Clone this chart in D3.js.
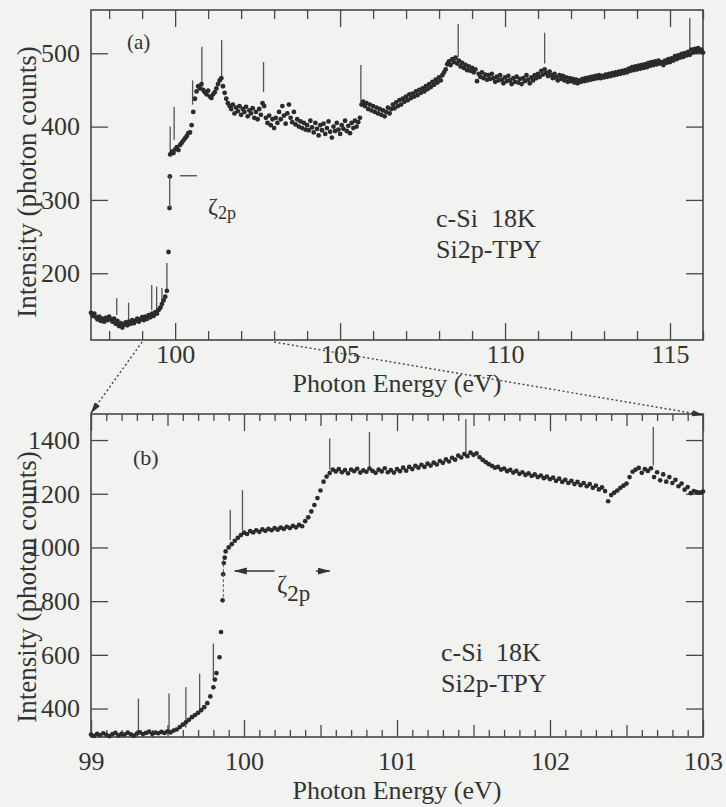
<!DOCTYPE html>
<html><head><meta charset="utf-8">
<script src="https://cdn.jsdelivr.net/npm/d3@7"></script>
<style>
html,body{margin:0;padding:0;background:#f2f2f0;}
svg{display:block;}
text{font-family:"Liberation Serif","DejaVu Serif","Times New Roman",serif;fill:#333;}
</style></head><body>
<svg id="chart" width="726" height="807"></svg>
<script>
// ---------------- data ----------------
// panel (a): wide scan, regular energy grid
const startEnergyA = 97.45, stepEnergyA = 0.05;
const intensityA = [
146,142,145,140,137,141,135,138,134,139,136,
141,137,134,138,131,135,128,132,126,130,133,129,134,131,136,132,135,138,134,137,
140,136,141,138,143,140,145,142,147,145,150,153,158,163,168,176,229,362,366,364,
369,372,368,375,378,381,384,387,391,392,402,420,438,448,455,452,458,450,447,444,
449,441,439,444,447,452,458,463,466,455,446,438,432,428,424,430,418,426,421,428,
416,424,420,427,414,422,418,425,412,420,410,424,416,432,428,412,405,415,402,410,
398,412,405,420,410,428,415,404,418,430,412,406,420,403,410,400,407,398,405,396,
402,395,408,399,392,405,397,388,402,395,404,390,398,407,393,385,400,394,405,396,
390,402,397,408,394,401,391,405,398,408,400,406,412,430,434,428,432,424,430,422,
428,420,426,418,424,416,422,414,420,426,418,424,430,425,433,428,436,430,438,434,
441,436,444,439,445,441,448,443,450,446,452,448,455,451,458,454,461,457,464,460,
467,463,470,474,478,485,489,484,492,488,494,486,490,482,487,480,484,477,482,476,
480,474,478,462,472,468,474,466,471,464,470,465,472,466,461,468,463,470,464,459,
467,462,469,463,458,466,461,468,460,465,458,466,462,470,464,459,467,463,470,466,
472,468,476,471,478,473,469,475,470,466,472,467,463,470,465,469,463,467,461,466,
462,465,460,464,459,463,461,465,462,466,463,467,464,468,465,469,466,470,466,469,
467,471,468,472,469,473,470,474,471,475,472,476,473,477,474,479,476,481,477,482,
478,483,479,484,480,485,481,487,483,488,484,489,485,490,486,488,484,490,487,492,
488,493,490,496,492,497,494,499,495,500,497,502,498,505,501,506,502,507,503,505,
501];
const edgeEnergyA = [99.83, 99.84];
const edgeIntensityA = [289, 332];
const markerEnergyA = [98.23, 98.59, 99.29, 99.44, 99.6, 99.75, 99.85, 99.97, 100.53, 100.81, 101.41, 102.68, 105.63, 108.58, 111.2, 115.6];
const markerTopA    = [166, 160, 184, 182, 180, 214, 400, 427, 463, 509, 518, 488, 484, 540, 528, 548];
const markerBottomA = [143, 136, 150, 150, 152, 177, 368, 382, 430, 452, 468, 447, 433, 495, 486, 505];
const xTicksA = [100, 105, 110, 115];
const yTicksA = [200, 300, 400, 500];

// panel (b): fine scan near the edge
const startEnergyB = 99.0, stepEnergyB = 0.02;
const intensityB = [
303,298,306,301,308,302,297,305,309,300,306,303,310,304,299,307,311,305,309,314,
306,310,308,313,309,315,311,318,322,331,340,349,358,368,376,384,394,405,420,445,
479,532,591,803,985,1000,1012,1025,1036,1046,
1055,1050,1061,1056,1064,1058,1067,1062,1069,1064,1072,1066,1074,1069,1077,1072,1080,1075,1084,1079,
1098,1112,1134,1158,1184,1212,1245,1264,1277,1290,1283,1292,1280,1288,1276,1290,1284,1293,1279,1287,
1282,1294,1285,1278,1290,1283,1295,1280,1288,1279,
1292,1284,1297,1286,1300,1292,1304,1297,1308,1300,1312,1305,1316,1309,1322,1315,1328,1320,1334,1327,
1342,1335,1348,1340,1353,1345,1350,1336,1326,1318,1310,1304,1297,1300,1290,1294,1284,1289,1279,1285,
1274,1280,1270,1276,1266,1272,1262,1268,1258,1264,
1254,1260,1248,1256,1244,1252,1240,1248,1236,1244,1232,1240,1228,1236,1222,1230,1216,1224,1210,1172,
1195,1204,1212,1222,1230,1238,1262,1282,1290,1296,1278,1292,1285,1295,1262,1280,1250,1272,1245,1262,
1240,1252,1228,1238,1215,1225,1202,1210,1206,1204,
1208];
const edgeEnergyB = [99.81, 99.85, 99.864, 99.868, 99.874];
const edgeIntensityB = [508, 685, 900, 942, 962];
const markerEnergyB = [99.31, 99.51, 99.62, 99.71, 99.80, 99.91, 99.99, 100.56, 100.82, 101.45, 102.675];
const markerTopB    = [437, 456, 480, 530, 642, 1139, 1213, 1406, 1430, 1478, 1449];
const markerBottomB = [313, 318, 328, 381, 505, 1027, 1064, 1290, 1300, 1352, 1305];
const xTicksB = [99, 100, 101, 102, 103];
const yTicksB = [400, 600, 800, 1000, 1200, 1400];

const xTitle = "Photon Energy (eV)";
const yTitle = "Intensity (photon counts)";
const sampleLines = ["c-Si\u00a0\u00a018K", "Si2p-TPY"];
const zoomRange = [99, 103];

// ---------------- layout ----------------
const svg = d3.select("#chart");
const left = 91, right = 703;
const topA = 10, botA = 340, topB = 414, botB = 737;
const ink = "#2b2b2b", frame = "#474747";

const xA = d3.scaleLinear().domain([97.45, 116]).range([left, right]);
const yA = d3.scaleLinear().domain([109, 559]).range([botA, topA]);
const xB = d3.scaleLinear().domain([99, 103]).range([left, right]);
const yB = d3.scaleLinear().domain([294, 1497]).range([botB, topB]);

const defs = svg.append("defs");
defs.append("marker").attr("id","conn").attr("viewBox","0 0 12 8").attr("refX",11).attr("refY",4)
  .attr("markerWidth",12).attr("markerHeight",8).attr("markerUnits","userSpaceOnUse").attr("orient","auto")
  .append("path").attr("d","M0,0.8 L12,4 L0,7.2 z").attr("fill","#333");
defs.append("marker").attr("id","zarr").attr("viewBox","0 0 13 8").attr("refX",12).attr("refY",4)
  .attr("markerWidth",13).attr("markerHeight",8).attr("markerUnits","userSpaceOnUse").attr("orient","auto")
  .append("path").attr("d","M0,0.5 L13,4 L0,7.5 z").attr("fill","#333");

function rnd(v){ return Math.round(v*1000)/1000; }
const dataA = intensityA.map((v,i)=>({e: rnd(startEnergyA + i*stepEnergyA), v}))
  .concat(edgeEnergyA.map((e,i)=>({e, v: edgeIntensityA[i]})));
const dataB = intensityB.map((v,i)=>({e: rnd(startEnergyB + i*stepEnergyB), v}))
  .concat(edgeEnergyB.map((e,i)=>({e, v: edgeIntensityB[i]})));

function styleAxis(g, fs){
  g.select(".domain").remove();
  g.selectAll(".tick line").attr("stroke", frame).attr("stroke-width", 1.3);
  g.selectAll("text").attr("fill","#333").style("font-size", fs+"px")
    .style("font-family",'"Liberation Serif","DejaVu Serif","Times New Roman",serif');
  g.attr("font-family", null).attr("font-size", null);
}

function drawPanel(x, y, top, bot, cfg){
  cfg.xTickSets.forEach(ts => {
    const gb = svg.append("g").attr("transform",`translate(0,${bot})`)
      .call(d3.axisBottom(x).tickValues(ts.values).tickSize(-ts.len).tickPadding(cfg.xPad)
        .tickFormat(ts.label ? d3.format("d") : ""));
    styleAxis(gb, 26);
    const gt = svg.append("g").attr("transform",`translate(0,${top})`)
      .call(d3.axisTop(x).tickValues(ts.values).tickSize(-ts.len).tickFormat(""));
    styleAxis(gt, 26);
  });
  const gl = svg.append("g").attr("transform",`translate(${left},0)`)
    .call(d3.axisLeft(y).tickValues(cfg.yTicks).tickSize(-17).tickPadding(11).tickFormat(d3.format("d")));
  styleAxis(gl, 26);
  const gr = svg.append("g").attr("transform",`translate(${right},0)`)
    .call(d3.axisRight(y).tickValues(cfg.yTicks).tickSize(-17).tickFormat(""));
  styleAxis(gr, 26);
  svg.append("rect").attr("x",left).attr("y",top).attr("width",right-left).attr("height",bot-top)
    .attr("fill","none").attr("stroke",frame).attr("stroke-width",1.6);
  svg.append("g").selectAll("line").data(cfg.markerE).join("line")
    .attr("x1",d=>x(d)).attr("x2",d=>x(d))
    .attr("y1",(d,i)=>y(cfg.markerTop[i])).attr("y2",(d,i)=>y(cfg.markerBot[i]))
    .attr("stroke","#555").attr("stroke-width",1.3);
  svg.append("g").selectAll("circle").data(cfg.data).join("circle")
    .attr("cx",d=>x(d.e)).attr("cy",d=>y(d.v)).attr("r",cfg.r).attr("fill",ink);
}

const minorA = d3.range(98, 117).filter(v => !xTicksA.includes(v));
drawPanel(xA, yA, topA, botA, {
  xTickSets:[{values:minorA, len:9, label:false},{values:xTicksA, len:17, label:true}],
  xPad:5, yTicks:yTicksA, data:dataA, r:2.4,
  markerE:markerEnergyA, markerTop:markerTopA, markerBot:markerBottomA
});

const allB = d3.range(0, 41).map(i => ({i, v: rnd(99 + i*0.1)}));
const tenthB = allB.filter(d => d.i % 5 !== 0).map(d=>d.v);
const halfB = allB.filter(d => d.i % 10 === 5).map(d=>d.v);
drawPanel(xB, yB, topB, botB, {
  xTickSets:[{values:tenthB, len:7, label:false},{values:halfB, len:12, label:false},{values:xTicksB, len:17, label:true}],
  xPad:15, yTicks:yTicksB, data:dataB, r:2.35,
  markerE:markerEnergyB, markerTop:markerTopB, markerBot:markerBottomB
});

// zeta markers, panel (a)
svg.append("line").attr("x1",xA(99.835)).attr("x2",xA(99.835)).attr("y1",yA(289)).attr("y2",yA(333))
  .attr("stroke","#555").attr("stroke-width",1.3);
svg.append("line").attr("x1",xA(100.15)).attr("x2",xA(100.66)).attr("y1",yA(333)).attr("y2",yA(333))
  .attr("stroke","#555").attr("stroke-width",1.4);
const za = svg.append("text").attr("x",208).attr("y",214).style("font-size","24px").text("ζ");
za.append("tspan").attr("dy",5).style("font-size","18px").text("2p");

// zeta markers, panel (b)
svg.append("line").attr("x1",xB(99.865)).attr("x2",xB(99.865)).attr("y1",yB(815)).attr("y2",yB(955))
  .attr("stroke","#555").attr("stroke-width",1).attr("stroke-dasharray","3,2");
svg.append("line").attr("x1",xB(100.2)).attr("x2",xB(99.94)).attr("y1",yB(912)).attr("y2",yB(912))
  .attr("stroke","#333").attr("stroke-width",1.5).attr("marker-end","url(#zarr)");
svg.append("line").attr("x1",xB(100.47)).attr("x2",xB(100.56)).attr("y1",yB(912)).attr("y2",yB(912))
  .attr("stroke","#333").attr("stroke-width",1.5).attr("marker-end","url(#zarr)");
const zb = svg.append("text").attr("x",277).attr("y",593).style("font-size","25px").text("ζ");
zb.append("tspan").attr("dy",8).style("font-size","23px").text("2p");

// panel labels
svg.append("text").attr("x",127).attr("y",49).style("font-size","21px").text("(a)");
svg.append("text").attr("x",133).attr("y",465).style("font-size","22px").text("(b)");

// sample text (two-line block)
function sampleBlock(x, y0, gap){
  const t = svg.append("text").attr("x",x).attr("y",y0).style("font-size","26px");
  t.append("tspan").attr("x",x).attr("dy",0).text(sampleLines[0]);
  t.append("tspan").attr("x",x).attr("dy",gap).text(sampleLines[1]);
}
sampleBlock(436, 227, 31);
sampleBlock(441, 661, 31);

// axis titles
svg.append("text").attr("x",(left+right)/2).attr("y",392).attr("text-anchor","middle").style("font-size","26px").text(xTitle);
svg.append("text").attr("x",(left+right)/2).attr("y",799).attr("text-anchor","middle").style("font-size","26px").text(xTitle);
svg.append("text").attr("transform","translate(36,182) rotate(-90)").attr("text-anchor","middle").style("font-size","27px").text(yTitle);
svg.append("text").attr("transform","translate(36,587) rotate(-90)").attr("text-anchor","middle").style("font-size","27px").text(yTitle);

// dotted zoom connectors from panel (a) range to panel (b) corners
svg.append("line").attr("x1",xA(zoomRange[0])).attr("y1",botA+2).attr("x2",xB(zoomRange[0])).attr("y2",topB-1)
  .attr("stroke","#444").attr("stroke-width",1.4).attr("stroke-dasharray","2,2.5").attr("marker-end","url(#conn)");
svg.append("line").attr("x1",xA(zoomRange[1])).attr("y1",botA+2).attr("x2",xB(zoomRange[1])).attr("y2",topB+1)
  .attr("stroke","#444").attr("stroke-width",1.4).attr("stroke-dasharray","2,2.5").attr("marker-end","url(#conn)");
</script>
</body></html>
